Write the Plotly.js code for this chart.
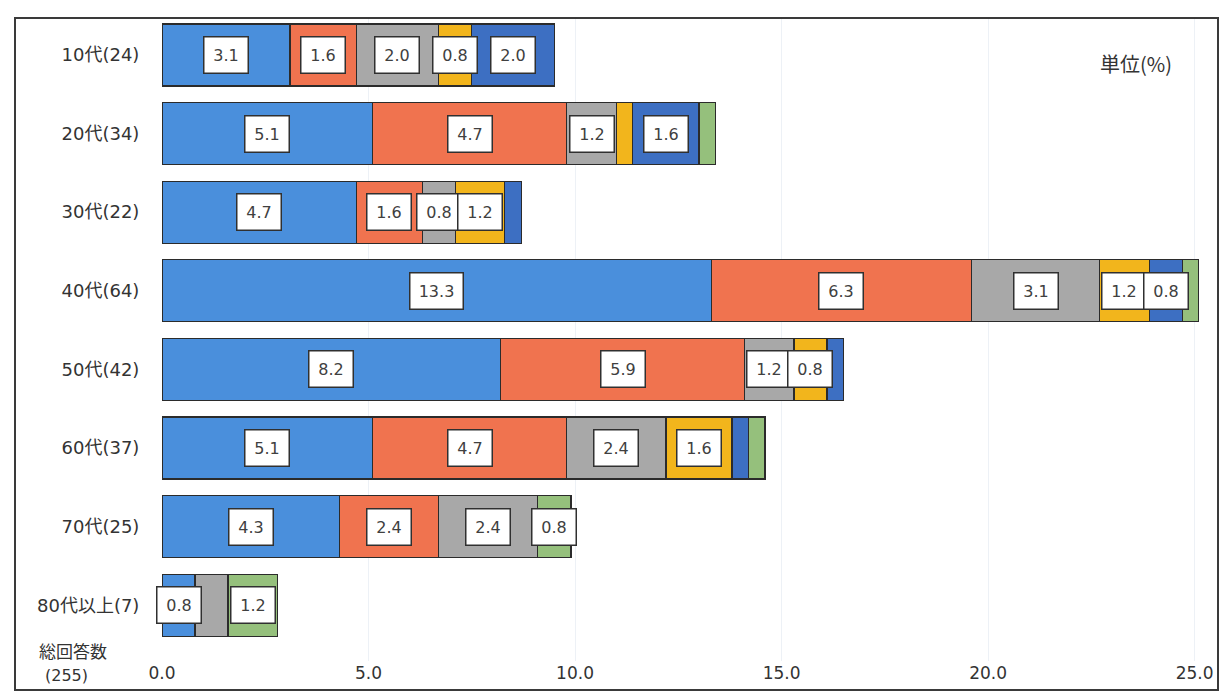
<!DOCTYPE html>
<html>
<head>
<meta charset="utf-8">
<script src="https://cdn.plot.ly/plotly-3.0.1.min.js"></script>
<style>
  html, body { margin: 0; padding: 0; background: #ffffff; }
  #chart { width: 1227px; height: 692px; }
</style>
</head>
<body>
<div id="chart"></div>
<script>
// ---- data (percent of 255 total respondents) ----
const categories = ['10代(24)', '20代(34)', '30代(22)', '40代(64)', '50代(42)', '60代(37)', '70代(25)', '80代以上(7)'];
const seriesA = [3.1, 5.1, 4.7, 13.3, 8.2, 5.1, 4.3, 0.8];   // light blue
const seriesB = [1.6, 4.7, 1.6, 6.3, 5.9, 4.7, 2.4, 0];     // orange
const seriesC = [2.0, 1.2, 0.8, 3.1, 1.2, 2.4, 2.4, 0.8];   // gray
const seriesD = [0.8, 0.4, 1.2, 1.2, 0.8, 1.6, 0, 0];       // yellow
const seriesE = [2.0, 1.6, 0.4, 0.8, 0.4, 0.4, 0, 0];       // dark blue
const seriesF = [0, 0.4, 0, 0.4, 0, 0.4, 0.8, 1.2];         // green
const xTickValues = [0, 5, 10, 15, 20, 25];
const unitLabel = '単位(%)';
const totalLabel = ['総回答数', '(255)'];
// labels that are not shown in the original
const hiddenLabels = [[2, 7]];

// ---- styling ----
const colors = ['#4a8fdc', '#f0734f', '#a8a8a8', '#f2b51c', '#3d6fc2', '#95c07c'];
const allSeries = [seriesA, seriesB, seriesC, seriesD, seriesE, seriesF];
const numFont = 'DejaVu Sans, Noto Sans CJK JP, sans-serif';
const cjkFont = 'Noto Sans CJK JP, DejaVu Sans, sans-serif';

const traces = allSeries.map((vals, i) => ({
  type: 'bar',
  orientation: 'h',
  y: categories,
  x: vals.map(v => (v > 0 ? v : null)),
  marker: { color: colors[i], line: { color: '#2b2b2b', width: 1.2 } },
  hoverinfo: 'x+y',
  showlegend: false
}));

// value label boxes centred on each segment
const annotations = [];
const base = categories.map(() => 0);
allSeries.forEach((vals, i) => {
  vals.forEach((v, j) => {
    const hidden = hiddenLabels.some(h => h[0] === i && h[1] === j);
    if (v >= 0.8 && !hidden) {
      const txt = v.toFixed(1);
      annotations.push({
        x: base[j] + v / 2, y: categories[j], xref: 'x', yref: 'y',
        xanchor: 'center', yanchor: 'middle',
        text: txt, showarrow: false,
        font: { family: numFont, size: 16, color: '#404040' },
        bgcolor: '#ffffff', bordercolor: '#303030', borderwidth: 1.5, borderpad: 4,
        width: txt.length * 9 + 8, height: 27, align: 'center', valign: 'middle'
      });
    }
    base[j] += v;
  });
});

// plot geometry helpers (pixels -> paper)
const L = 162, R = 20, T = 18, B = 31, W = 1227, H = 692;
const pw = W - L - R, ph = H - T - B;
const px = p => (p - L) / pw;
const py = p => (H - B - p) / ph;

annotations.push({
  xref: 'paper', yref: 'paper', x: px(1136), y: py(64), xanchor: 'center', yanchor: 'middle',
  text: unitLabel, showarrow: false,
  font: { family: cjkFont, size: 20, color: '#333' }
});
annotations.push({
  xref: 'paper', yref: 'paper', x: px(73), y: py(650), xanchor: 'center', yanchor: 'middle',
  text: totalLabel[0], showarrow: false,
  font: { family: cjkFont, size: 17, color: '#333' }
});
annotations.push({
  xref: 'paper', yref: 'paper', x: px(66), y: py(675), xanchor: 'center', yanchor: 'middle',
  text: totalLabel[1], showarrow: false,
  font: { family: numFont, size: 16, color: '#333' }
});

const layout = {
  width: W, height: H,
  margin: { l: L, r: R, t: T, b: B, pad: 0 },
  paper_bgcolor: '#ffffff', plot_bgcolor: '#ffffff',
  barmode: 'stack', bargap: 0.21,
  showlegend: false,
  xaxis: {
    range: [0, 25.3], tickvals: xTickValues, tickformat: '.1f',
    showgrid: true, gridcolor: '#edf1f6', gridwidth: 1, zeroline: false,
    showline: false, ticks: '',
    tickfont: { family: numFont, size: 17, color: '#333' }
  },
  yaxis: {
    type: 'category', categoryorder: 'array', categoryarray: categories,
    range: [7.71, -0.47], showgrid: false, zeroline: false, showline: false,
    ticks: 'outside', ticklen: 18, tickcolor: 'rgba(0,0,0,0)',
    tickfont: { family: numFont, size: 18, color: '#333' }
  },
  annotations: annotations,
  shapes: [{
    type: 'rect', xref: 'paper', yref: 'paper',
    x0: px(15), x1: px(1218), y0: py(690), y1: py(18),
    line: { color: '#3a3a3a', width: 2 }, fillcolor: 'rgba(0,0,0,0)', layer: 'above'
  }]
};

Plotly.newPlot('chart', traces, layout, { displayModeBar: false, staticPlot: true });
</script>
</body>
</html>
